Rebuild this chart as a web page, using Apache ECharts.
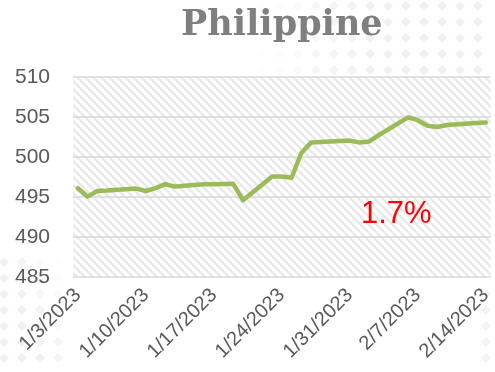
<!DOCTYPE html>
<html>
<head>
<meta charset="utf-8">
<script src="https://cdn.jsdelivr.net/npm/echarts@6/dist/echarts.min.js"></script>
<style>
  html, body { margin: 0; padding: 0; background: #ffffff; }
  #chart { width: 495px; height: 372px; }
</style>
</head>
<body>
<div id="chart"></div>
<script>
// Trading days and index values
const dates = [
  '2023-01-03', '2023-01-04', '2023-01-05', '2023-01-06',
  '2023-01-09', '2023-01-10', '2023-01-11', '2023-01-12', '2023-01-13',
  '2023-01-16', '2023-01-17', '2023-01-18', '2023-01-19', '2023-01-20',
  '2023-01-23', '2023-01-24', '2023-01-25', '2023-01-26', '2023-01-27',
  '2023-01-30', '2023-01-31', '2023-02-01', '2023-02-02', '2023-02-03',
  '2023-02-06', '2023-02-07', '2023-02-08', '2023-02-09', '2023-02-10',
  '2023-02-13', '2023-02-14'
];
const values = [
  496.1, 495.05, 495.75, 495.8,
  496.05, 495.75, 496.1, 496.6, 496.3,
  496.6, 496.6, 496.62, 496.65, 494.6,
  497.55, 497.55, 497.4, 500.5, 501.8,
  502.0, 502.05, 501.8, 501.95, 502.75,
  504.95, 504.6, 503.9, 503.75, 504.0,
  504.25, 504.3
];
// Weekly axis labels
const tickDates = ['2023-01-03', '2023-01-10', '2023-01-17', '2023-01-24', '2023-01-31', '2023-02-07', '2023-02-14'];
const yTicks = [485, 490, 495, 500, 505, 510];

// The x axis counts calendar days from the first date
const DAY = 86400000;
const ts = s => { const p = s.split('-').map(Number); return Date.UTC(p[0], p[1] - 1, p[2]); };
const origin = ts(dates[0]);
const dayIndex = s => Math.round((ts(s) - origin) / DAY);
const dayLabel = n => {
  const d = new Date(origin + n * DAY);
  return (d.getUTCMonth() + 1) + '/' + d.getUTCDate() + '/' + d.getUTCFullYear();
};

// Diagonal hatch used as the plot-area fill
function hatch() {
  const c = document.createElement('canvas');
  c.width = 8; c.height = 8;
  const g = c.getContext('2d');
  g.fillStyle = '#ffffff';
  g.fillRect(0, 0, 8, 8);
  g.strokeStyle = '#e9e9e9';
  g.lineWidth = 2.6;
  g.beginPath();
  g.moveTo(-2, -2); g.lineTo(10, 10);
  g.moveTo(-10, -2); g.lineTo(2, 10);
  g.moveTo(6, -2); g.lineTo(18, 10);
  g.stroke();
  return c;
}

// Decorative diamond dots in the page background
function diamonds(x0, x1, y0, y1, fade) {
  const out = [];
  for (let y = y0; y <= y1; y += 16) {
    for (let x = x0; x <= x1; x += 18) {
      const o = fade(x, y);
      if (o <= 0) continue;
      out.push({
        type: 'polygon', silent: true, z: -10,
        shape: { points: [[x, y - 5], [x + 5, y], [x, y + 5], [x - 5, y]] },
        style: { fill: '#f0f0f0', opacity: o }
      });
    }
  }
  return out;
}

const first = values[0], last = values[values.length - 1];
const change = ((last / first - 1) * 100).toFixed(1) + '%';
const lastDay = dayIndex(dates[dates.length - 1]);

const chart = echarts.init(document.getElementById('chart'), null, { renderer: 'canvas' });
chart.setOption({
  animation: false,
  backgroundColor: '#ffffff',
  grid: {
    left: 73, top: 77, width: 424, height: 200,
    show: true, borderWidth: 0,
    backgroundColor: { image: hatch(), repeat: 'repeat' }
  },
  xAxis: {
    type: 'value',
    min: -0.5,
    max: lastDay + 0.5,
    axisLine: { show: false },
    axisTick: { show: false },
    splitLine: { show: false },
    axisLabel: {
      customValues: tickDates.map(dayIndex),
      rotate: 45,
      margin: 15,
      color: '#595959',
      fontFamily: 'Liberation Sans',
      fontSize: 20,
      hideOverlap: false,
      formatter: (v) => dayLabel(v)
    }
  },
  yAxis: {
    type: 'value',
    min: yTicks[0], max: yTicks[yTicks.length - 1], interval: 5,
    axisLine: { show: false },
    axisTick: { show: false },
    splitLine: { lineStyle: { color: '#d9d9d9', width: 1.5 } },
    axisLabel: {
      margin: 23,
      color: '#595959',
      fontFamily: 'Liberation Sans',
      fontSize: 21
    }
  },
  series: [{
    type: 'line',
    data: dates.map((d, i) => [dayIndex(d), values[i]]),
    showSymbol: false,
    lineStyle: { color: '#9bbb59', width: 4.5, cap: 'round', join: 'round' },
    itemStyle: { color: '#9bbb59' }
  }],
  graphic: [
    ...diamonds(262, 495, 6, 70, (x, y) => Math.min(1, Math.max(0, (x - 250) / 120))),
    ...diamonds(4, 70, 262, 372, (x, y) => Math.min(1, Math.max(0, (80 - x) / 60 + (y - 300) / 150))),
    ...diamonds(486, 495, 294, 372, () => 0.8),
    {
      type: 'text', left: 181, top: 8, z: 10,
      style: {
        text: 'Philippine', fill: '#7f7f7f',
        font: 'bold 35px "DejaVu Serif"'
      }
    },
    {
      type: 'text', left: 361, top: 199, z: 10,
      style: {
        text: change, fill: '#ff0000',
        font: '31px "Liberation Sans"'
      }
    }
  ]
});
</script>
</body>
</html>
